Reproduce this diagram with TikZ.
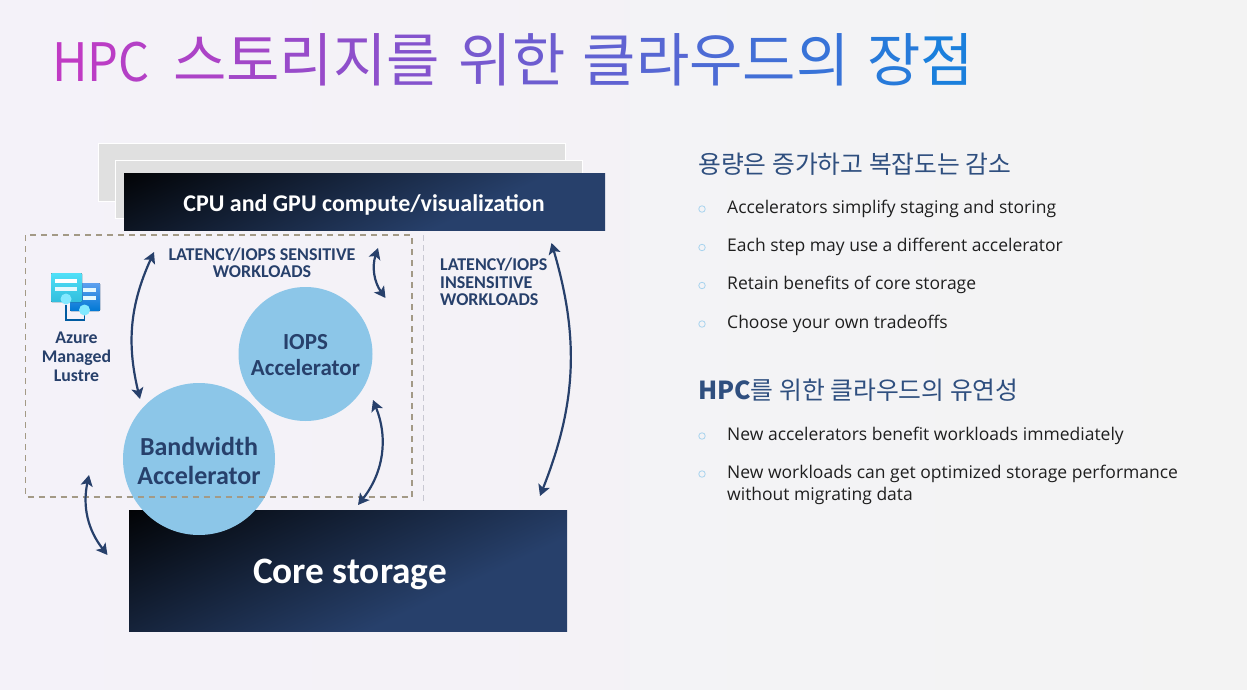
\documentclass[tikz,border=0pt]{standalone}
\usepackage{graphicx}
\usepackage{fontspec}
\setmainfont{Open Sans}
\newfontfamily\krfont{Noto Sans CJK KR}
\newfontfamily\lblfont{Carlito}
\usetikzlibrary{arrows.meta}
\definecolor{navy}{HTML}{27406B}
\definecolor{headblue}{HTML}{2F4F7F}
\definecolor{acccirc}{HTML}{8CC6E8}
\definecolor{backcard}{HTML}{E0E0E0}
\definecolor{dashtan}{HTML}{A39A86}
\definecolor{dashpale}{HTML}{C8C8D2}
\definecolor{bulletblue}{HTML}{A9D3EE}
\definecolor{titlea}{HTML}{C03BC4}
\definecolor{titleb}{HTML}{1A7FDC}
\definecolor{pagel}{HTML}{F4F2F9}
\definecolor{pager}{HTML}{F3F3F3}
\definecolor{iconcyan}{HTML}{50E0F8}
\definecolor{iconteal}{HTML}{32BEDD}
\definecolor{iconblue}{HTML}{5EA0EF}
\definecolor{icondeep}{HTML}{0078D4}
\definecolor{iconwire}{HTML}{005BA1}
\definecolor{icondot}{HTML}{83E9FF}
\definecolor{iconbar}{HTML}{E4F8FD}
\pgfdeclarehorizontalshading{navyfade}{100bp}{color(0bp)=(black); color(14bp)=(black); color(64bp)=(navy); color(100bp)=(navy)}
\newcommand{\tl}[2]{\textcolor{titleb!#1!titlea}{#2}}
\tikzset{
  darkbar/.style={shading=navyfade,shading angle=-65,text=white,anchor=north west,inner sep=0pt},
  paper/.style={fill=backcard,draw=white,line width=.8pt},
  accel/.style={circle,fill=acccirc,text=navy,align=center,inner sep=0pt},
  tag/.style={text=navy,align=center,inner sep=0pt,font=\lblfont\bfseries\fontsize{18}{17.4}\selectfont},
  flow/.style={draw=navy,line width=2.2pt,{Stealth[inset=2.5pt,length=11pt,width=12pt]}-{Stealth[inset=2.5pt,length=11pt,width=12pt]}},
  bullet/.style={circle,draw=bulletblue,line width=.8pt,minimum size=6.5pt,inner sep=0pt},
  point/.style={anchor=base west,inner sep=0pt,text=black!88,font=\fontsize{17.5}{22}\selectfont},
  heading/.style={anchor=base west,inner sep=0pt,text=headblue,font=\krfont\fontsize{24.8}{28}\selectfont}
}
\begin{document}
\begin{tikzpicture}[x=1pt,y=-1pt]
  \useasboundingbox (0,0) rectangle (1247,690);
  \fill[left color=pagel,right color=pager] (0,0) rectangle (1247,690);

  % Titulo
  \node[anchor=base west,inner sep=0pt,font=\krfont\fontsize{58}{60}\selectfont] (title) at (52,82)
    {\scalebox{.92}[1]{\fontsize{53}{60}\selectfont\tl{0}{H}\tl{3}{P}\tl{7}{C}}\hspace{23.5pt}\tl{12}{스}\tl{18}{토}\tl{24}{리}\tl{30}{지}\tl{36}{를}\hspace{19pt}\tl{44}{위}\tl{50}{한}\hspace{17pt}\tl{58}{클}\tl{64}{라}\tl{70}{우}\tl{76}{드}\tl{82}{의}\hspace{18pt}\tl{92}{장}\tl{100}{점}};

  % Capas de computo
  \draw[paper] (98.5,143) rectangle (565,201);
  \draw[paper] (115.5,160) rectangle (582.5,218);
  \node[darkbar,minimum width=481pt,minimum height=57pt] (compute) at (124,173) {};
  \node[text=white,inner sep=0pt,font=\lblfont\bfseries\fontsize{24}{26}\selectfont] (computetxt) at (364,205) {CPU and GPU compute/visualization};

  % Almacenamiento
  \node[darkbar,minimum width=438pt,minimum height=121pt] (core) at (129,510) {};
  \node[text=white,inner sep=0pt,font=\lblfont\bfseries\fontsize{37.3}{40}\selectfont] (coretxt) at (350,574.5) {Core storage};

  % Aceleradores
  \node[accel,minimum size=134pt] (iops) at (305.5,354) {};
  \node[text=navy,align=center,inner sep=0pt,font=\lblfont\bfseries\fontsize{23}{26}\selectfont] (iopstxt) at (305.5,355.5) {IOPS\\Accelerator};
  \node[accel,minimum size=152pt] (band) at (199,459) {};
  \node[text=navy,align=center,inner sep=0pt,font=\lblfont\bfseries\fontsize{26}{29}\selectfont] (bandtxt) at (199,461) {Bandwidth\\Accelerator};

  % Limites punteados
  \draw[dashtan,line width=1.8pt,dash pattern=on 6pt off 5pt] (25.5,235) rectangle (412,497);
  \coordinate (splitT) at (423.5,235);
  \coordinate (splitB) at (423.5,501);
  \draw[dashpale,line width=1.1pt,dash pattern=on 6pt off 4pt] (splitT) -- (splitB);

  % Etiquetas
  \node[tag] (sens) at (262,262.5) {LATENCY/IOPS SENSITIVE\\WORKLOADS};
  \node[tag,anchor=west,align=left] (insens) at (440,282) {LATENCY/IOPS\\INSENSITIVE\\WORKLOADS};
  \node[tag,font=\lblfont\bfseries\fontsize{17.8}{19}\selectfont] (lustre) at (76.5,357) {Azure\\Managed\\Lustre};

  % Icono
  \draw[line width=1.6pt,draw=iconwire] (66,305) -- (66,320) -- (84.5,320) -- (84.5,314);
  \fill[rounded corners=1pt,top color=iconblue,bottom color=icondeep] (70,283) rectangle (100,311);
  \fill[iconbar] (83,288) rectangle (96,292);
  \fill[iconbar] (83,296) rectangle (96,300);
  \fill[rounded corners=1pt,top color=iconcyan,bottom color=iconteal] (51,273) rectangle (82,302);
  \fill[white] (55,279) rectangle (77,283);
  \fill[iconbar] (55,287) rectangle (77,291);
  \fill[icondot] (66,299) circle (5.5);
  \fill[icondot] (84.5,310) circle (5.5);

  % Flechas
  \coordinate (a1) at (154,252);
  \coordinate (a2) at (140,399);
  \coordinate (b1) at (378,248);
  \coordinate (b2) at (385.5,298);
  \coordinate (c1) at (551.5,243);
  \coordinate (c2) at (540,496);
  \coordinate (d1) at (373,400);
  \coordinate (d2) at (358,505);
  \coordinate (e1) at (89,475);
  \coordinate (e2) at (107.5,555);
  \foreach \from/\to/\bnd in {a1/a2/-19, b1/b2/-27, c1/c2/19, d1/d2/30, e1/e2/-25}
    \draw[flow] (\from) to[bend left=\bnd] (\to);

  % Lista derecha
  \node[heading] (head1) at (698,173) {용량은 증가하고 복잡도는 감소};
  \node[heading] (head2) at (698,399) {\textbf{HPC}를 위한 클라우드의 유연성};
  \foreach \y/\txt in {213/{Accelerators simplify staging and storing},
                       251.5/{Each step may use a different accelerator},
                       289.5/{Retain benefits of core storage},
                       328/{Choose your own tradeoffs},
                       440/{New accelerators benefit workloads immediately},
                       478/{New workloads can get optimized storage performance}}
  {
    \node[bullet] at (702,\y-4) {};
    \node[point] at (727,\y) {\txt};
  }
  \node[point] (wrapline) at (727,500.5) {without migrating data};
\end{tikzpicture}
\end{document}
